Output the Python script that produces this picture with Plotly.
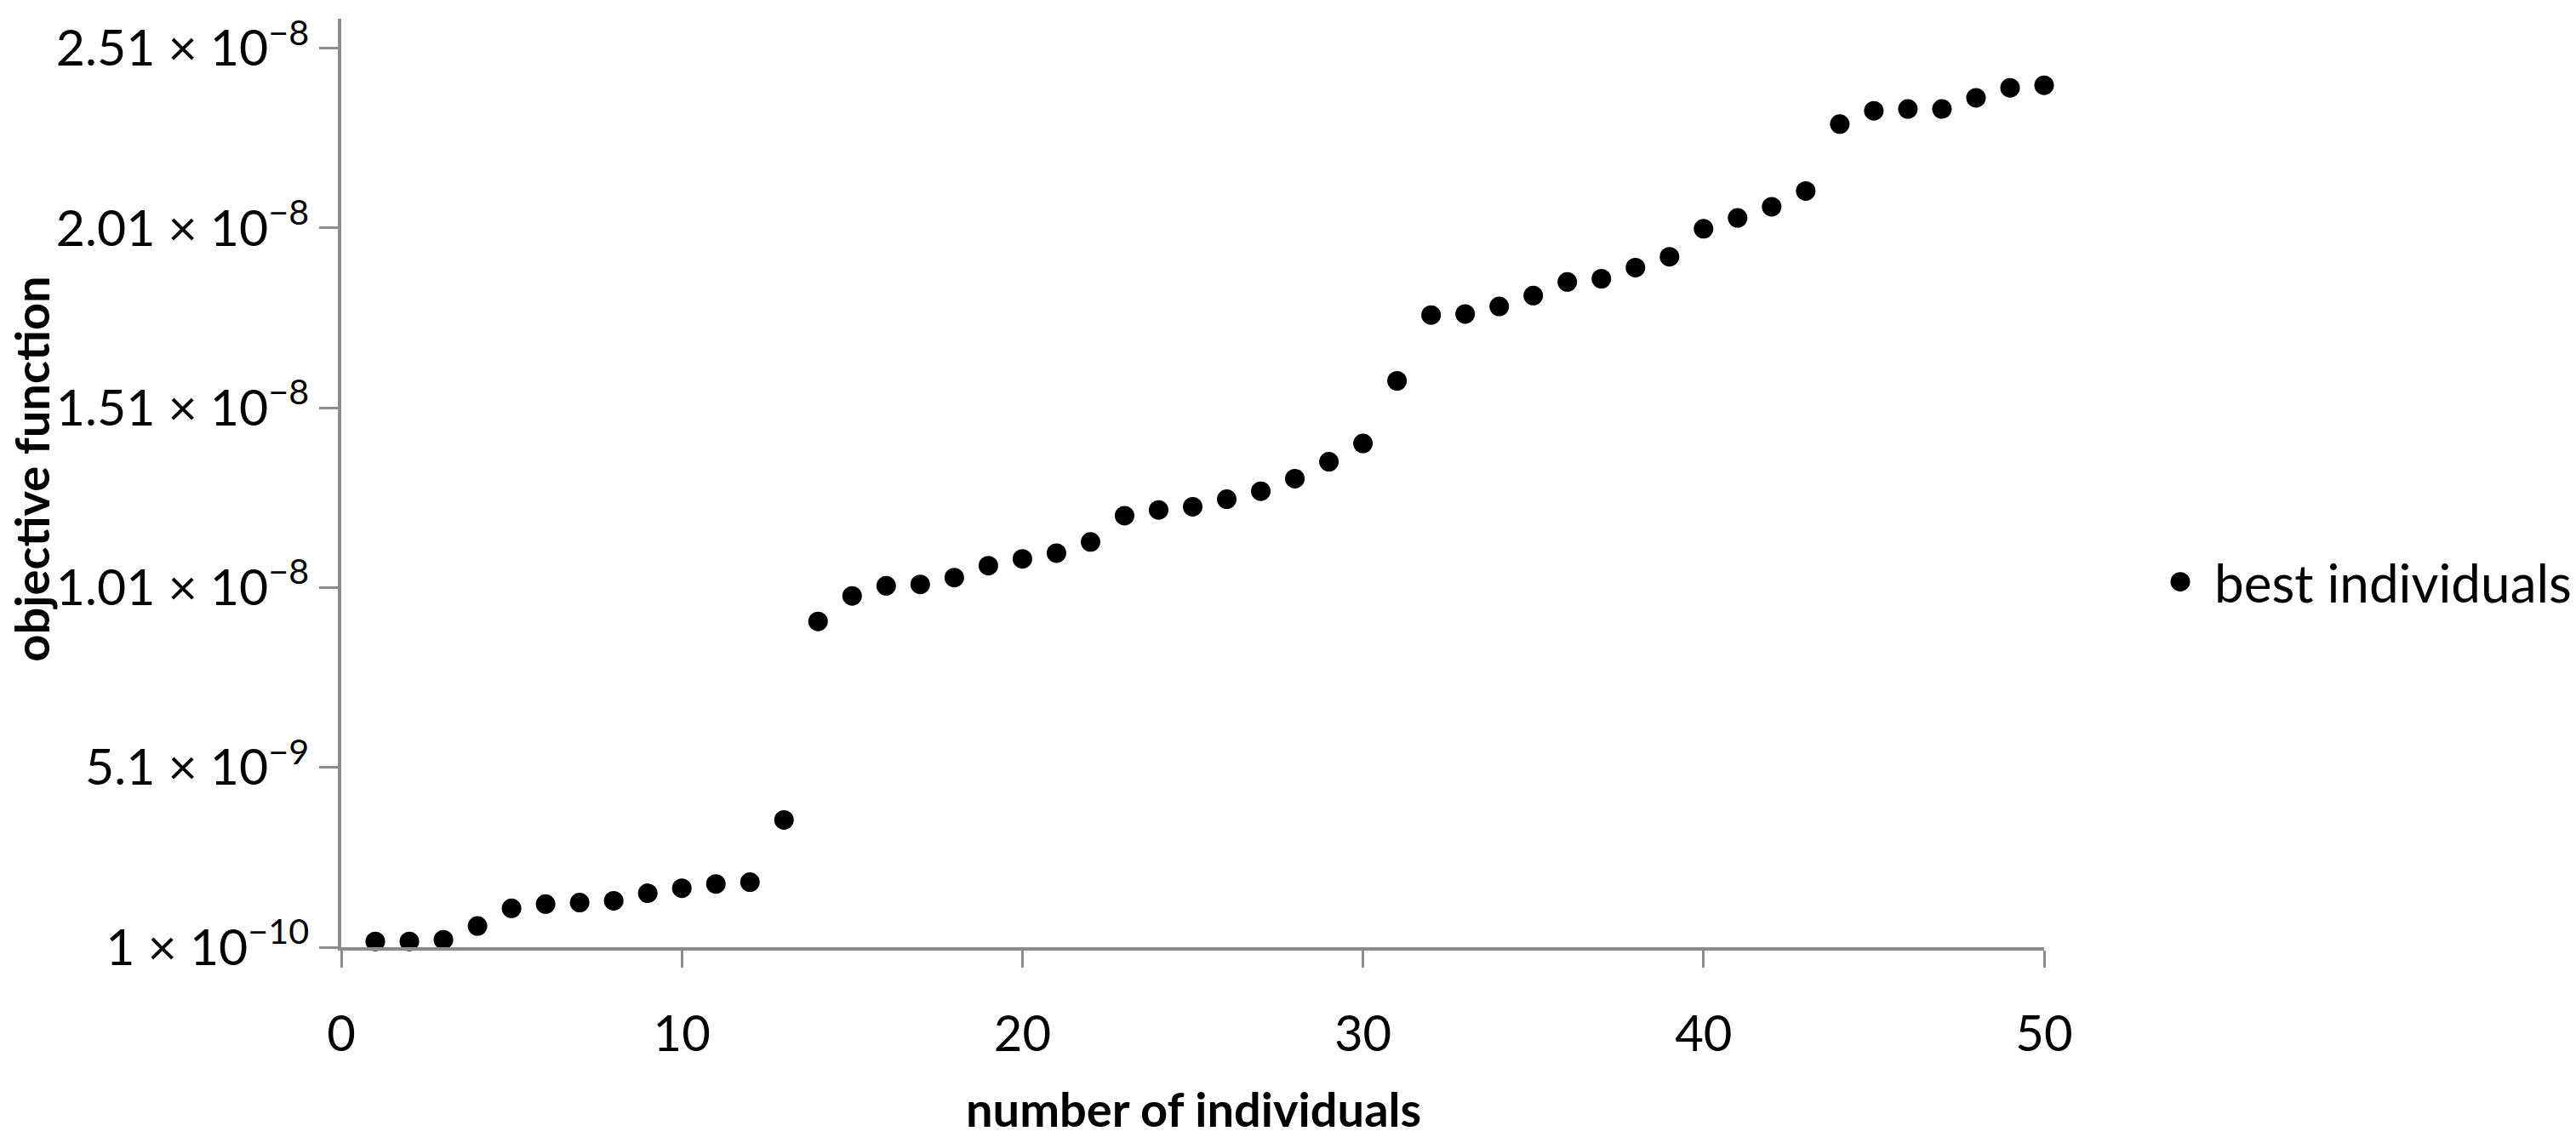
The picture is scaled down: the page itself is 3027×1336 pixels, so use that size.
import plotly.graph_objects as go

# ---- data ----
individuals = list(range(1, 51))
objective_e9 = [
    0.26, 0.26, 0.31, 0.69, 1.18, 1.30, 1.34, 1.39, 1.60, 1.74,
    1.86, 1.91, 3.64, 9.16, 9.87, 10.15, 10.19, 10.38, 10.71, 10.90,
    11.06, 11.37, 12.10, 12.26, 12.35, 12.56, 12.78, 13.13, 13.60, 14.11,
    15.85, 17.68, 17.71, 17.92, 18.22, 18.60, 18.69, 19.00, 19.30, 20.08,
    20.38, 20.69, 21.13, 22.99, 23.36, 23.41, 23.41, 23.72, 24.00, 24.07,
]
objective = [v * 1e-9 for v in objective_e9]

y_tickvals = [1e-10, 5.1e-9, 1.01e-8, 1.51e-8, 2.01e-8, 2.51e-8]
y_ticktext = [
    "1 × 10<sup>−10</sup>",
    "5.1 × 10<sup>−9</sup>",
    "1.01 × 10<sup>−8</sup>",
    "1.51 × 10<sup>−8</sup>",
    "2.01 × 10<sup>−8</sup>",
    "2.51 × 10<sup>−8</sup>",
]
x_tickvals = [0, 10, 20, 30, 40, 50]

series_name = "best individuals"
x_title = "number of individuals"
y_title = "objective function"

FONT = "Lato"
AXIS_COLOR = "#8c8c8c"

W, H = 3027, 1336
L, R, T, B = 401, 625, 13, 223
PW, PH = W - L - R, H - T - B


def px_x(p):
    return (p - L) / PW


def px_y(p):
    return (H - B - p) / PH


fig = go.Figure()
fig.add_trace(go.Scatter(
    x=individuals, y=objective, mode="markers", name=series_name,
    marker=dict(color="black", size=23), cliponaxis=False, showlegend=False,
))

# legend (drawn manually so the symbol matches the marker size)
LEG_CX, LEG_CY, LEG_D = 2562, 680, 23

fig.update_layout(
    width=W, height=H,
    margin=dict(l=L, r=R, t=T, b=B, pad=0),
    plot_bgcolor="white", paper_bgcolor="white",
    font=dict(family=FONT, color="black", size=58),
    showlegend=False,
    xaxis=dict(
        range=[0, 50], showgrid=False, zeroline=False,
        showline=True, linecolor=AXIS_COLOR, linewidth=4,
        ticks="outside", ticklen=20, tickwidth=3, tickcolor=AXIS_COLOR,
        tickvals=x_tickvals, ticklabelstandoff=28,
        tickfont=dict(size=58, family=FONT, color="black"),
    ),
    yaxis=dict(
        range=[1e-10, 2.592e-8], showgrid=False, zeroline=False,
        showline=True, linecolor=AXIS_COLOR, linewidth=4,
        ticks="outside", ticklen=22, tickwidth=3, tickcolor=AXIS_COLOR,
        tickvals=y_tickvals, ticktext=y_ticktext, ticklabelstandoff=0,
        tickfont=dict(size=59, family=FONT, color="black"),
    ),
    shapes=[
        dict(type="circle", xref="paper", yref="paper",
             x0=px_x(LEG_CX - LEG_D / 2), x1=px_x(LEG_CX + LEG_D / 2),
             y0=px_y(LEG_CY + LEG_D / 2), y1=px_y(LEG_CY - LEG_D / 2),
             fillcolor="black", line=dict(width=0)),
    ],
    annotations=[
        dict(text=series_name, xref="paper", yref="paper",
             x=px_x(2600), y=px_y(LEG_CY), xanchor="left", yanchor="middle",
             showarrow=False, font=dict(size=62, family=FONT, color="black")),
        dict(text=f"<b>{y_title}</b>", textangle=-90, xref="paper", yref="paper",
             x=px_x(37), y=px_y(547),
             xanchor="center", yanchor="middle", showarrow=False,
             font=dict(size=56, family=FONT, color="black")),
        dict(text=f"<b>{x_title}</b>", xref="paper", yref="paper",
             x=px_x(1402), y=px_y(1304),
             xanchor="center", yanchor="middle", showarrow=False,
             font=dict(size=56, family=FONT, color="black")),
    ],
)

fig.write_html(
    "out.html",
    config={"displayModeBar": False},
    post_script="document.body.style.margin='0';document.body.style.overflow='hidden';",
)
